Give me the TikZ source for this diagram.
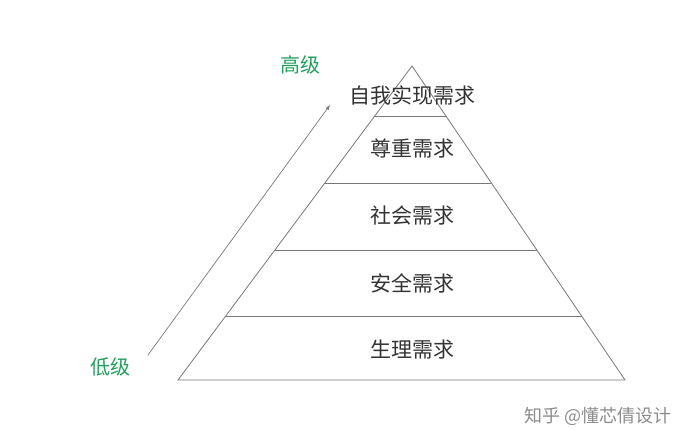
\documentclass[tikz,border=0pt]{standalone}
\usepackage{fontspec}
\setmainfont{Noto Sans CJK SC}
\usetikzlibrary{calc}
\definecolor{levelgreen}{RGB}{30,160,90}
\definecolor{linegray}{RGB}{120,120,120}
\tikzset{
  level/.style={text=black!80, font=\fontsize{21}{24}\selectfont},
  tag/.style={text=levelgreen, font=\fontsize{20}{23}\selectfont},
}
\begin{document}
\begin{tikzpicture}[x=1pt,y=-1pt]
\useasboundingbox (0,0) rectangle (700,446);
\coordinate (top) at (412,66);
\coordinate (bl) at (178,380);
\coordinate (br) at (625,380);
% outline
\draw[linegray, line width=0.8pt] (top) -- (bl) -- (br) -- cycle;
% layers
\foreach \t/\n in {0.162/a,0.373/b,0.586/c,0.799/d}
  \draw[linegray, line width=0.8pt] ($(top)!\t!(bl)$) -- ($(top)!\t!(br)$);
\node[level] (self) at (412,95) {自我实现需求};
\node[level] (esteem) at (412,149) {尊重需求};
\node[level] (social) at (412,216) {社会需求};
\node[level] (safety) at (412,283) {安全需求};
\node[level] (body) at (412,350) {生理需求};
% arrow
\coordinate (lowend) at (148,355);
\coordinate (highend) at (330,105);
\draw[linegray, line width=0.7pt, -latex] (lowend) -- (highend);
\node[tag] (high) at (300,65) {高级};
\node[tag] (low) at (110,367) {低级};
\node[text=black!45, font=\fontsize{18}{21}\selectfont] (mark) at (598,416) {知乎 @懂芯倩设计};
\end{tikzpicture}
\end{document}
